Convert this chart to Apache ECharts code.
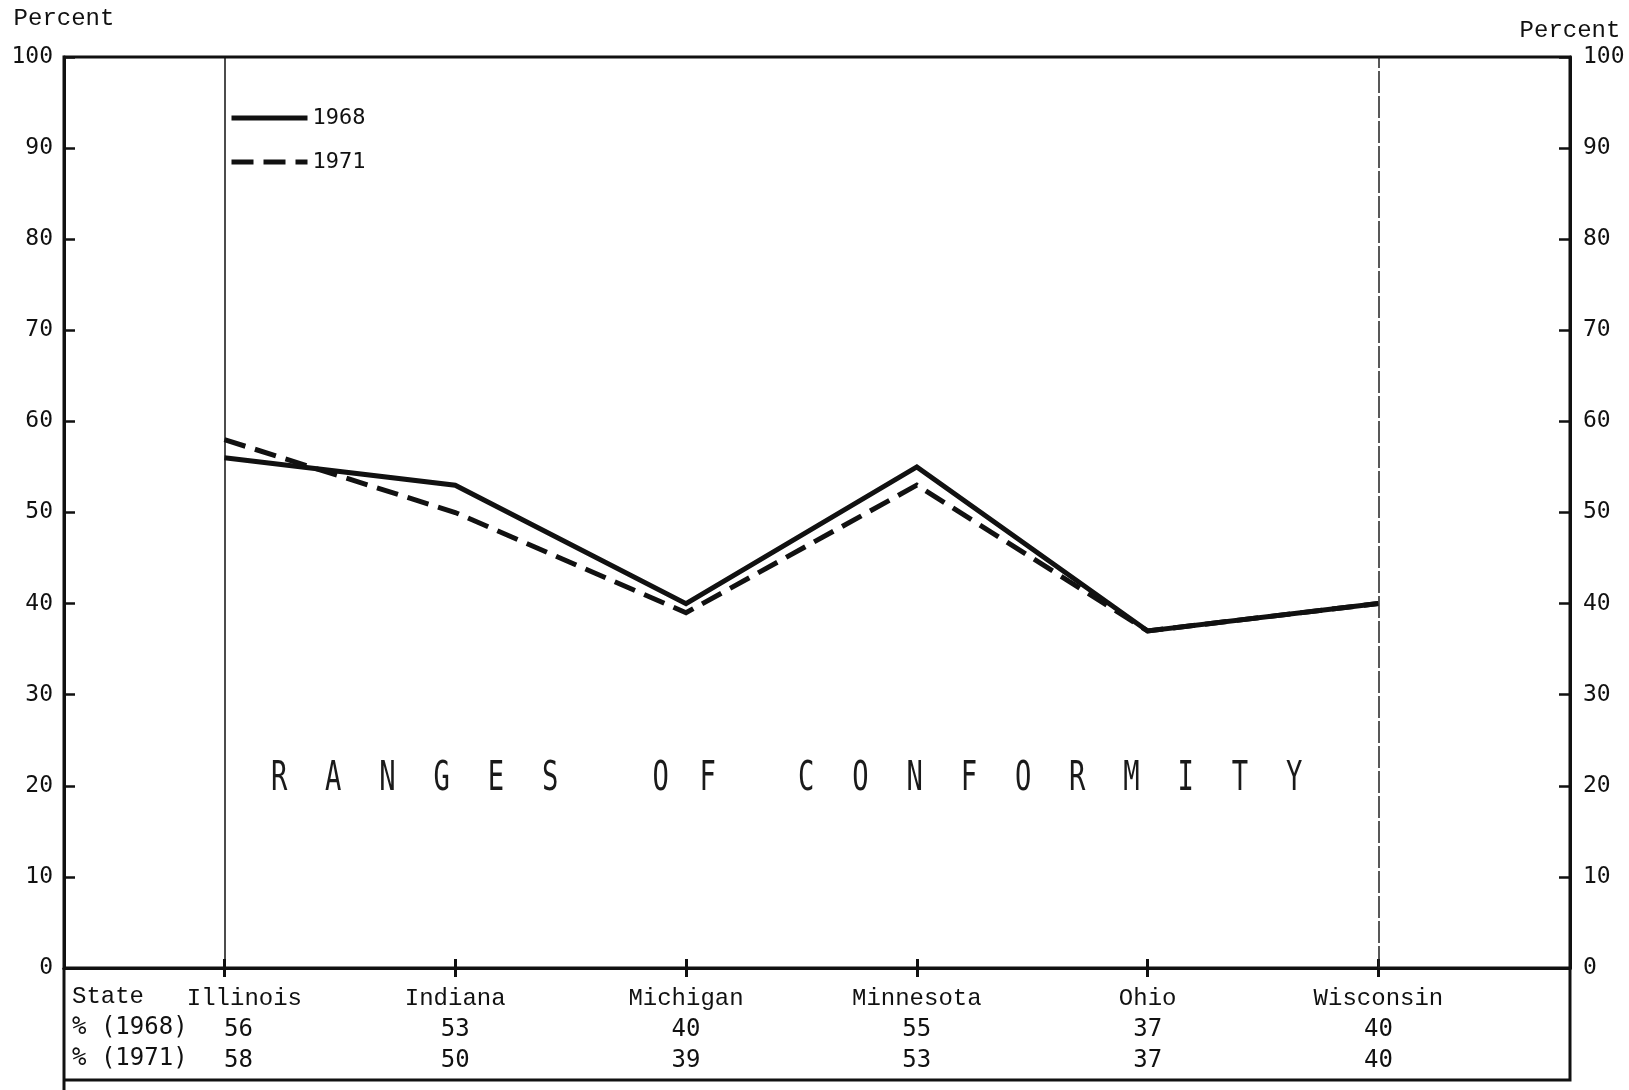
<!DOCTYPE html>
<html>
<head>
<meta charset="utf-8">
<script src="https://cdn.jsdelivr.net/npm/echarts@6/dist/echarts.min.js"></script>
<style>
html,body{margin:0;padding:0;background:#fff;}
#c{width:1629px;height:1090px;}
</style>
</head>
<body>
<div id="c"></div>
<script>
// ---- data ----
const states = ['Illinois', 'Indiana', 'Michigan', 'Minnesota', 'Ohio', 'Wisconsin'];
const pct1968 = [56, 53, 40, 55, 37, 40];
const pct1971 = [58, 50, 39, 53, 37, 40];
const seriesNames = ['1968', '1971'];
const rowHeaders = ['State', '% (1968)', '% (1971)'];
const overlayWords = ['RANGES', 'OF', 'CONFORMITY'];
const axisName = 'Percent';

// ---- styling ----
const INK = '#111';
const MONO_SERIF = '"Liberation Mono", "DejaVu Sans Mono", monospace';
const MONO_SANS = '"DejaVu Sans Mono", "Liberation Mono", monospace';

const idx = states.map((_, i) => i);
const d1968 = pct1968.map((v, i) => [i, v]);
const d1971 = pct1971.map((v, i) => [i, v]);

const G = { left: 64, right: 1570, top: 57, bottom: 968 };
const TSX = 0.68; // horizontal squeeze of the overlay caption

// overlay title built as rich text
function buildTitle() {
  let s = '';
  overlayWords.forEach((w, wi) => {
    if (wi > 0) s += (wi === 1 ? '{g1| }' : '{g2| }');
    for (const ch of w) s += (w.length <= 2 ? '{b|' + ch + '}' : '{a|' + ch + '}');
  });
  return s;
}

const chart = echarts.init(document.getElementById('c'), null, { renderer: 'canvas' });

const xCommon = { type: 'value', min: -0.695, max: 5.83, gridIndex: 0, splitLine: { show: false } };
const capFont = { fontFamily: MONO_SANS, fontSize: 40, fill: '#1a1a1a' };

const option = {
  backgroundColor: '#fff',
  animation: false,
  grid: {
    left: G.left, right: 1629 - G.right, top: G.top, bottom: 1090 - G.bottom,
    show: true, borderColor: INK, borderWidth: 3, backgroundColor: 'transparent'
  },
  legend: {
    orient: 'vertical', left: 224, top: 102,
    itemWidth: 76, itemHeight: 24, itemGap: 22,
    itemStyle: { opacity: 0 },
    lineStyle: { width: 5 },
    textStyle: { fontFamily: MONO_SANS, fontSize: 22, color: INK },
    data: seriesNames
  },
  xAxis: [
    Object.assign({}, xCommon, {
      position: 'bottom',
      axisLine: { show: true, onZero: false, lineStyle: { color: INK, width: 3 } },
      axisTick: { show: true, inside: false, length: 9, lineStyle: { color: INK, width: 3 }, customValues: idx },
      axisLabel: {
        show: true, margin: 15, customValues: idx,
        formatter: function (val) {
          const i = Math.round(val);
          const sfx = i === 0 ? '0' : '';
          return '{s' + sfx + '|' + states[i] + '}\n{n' + sfx + '|' + pct1968[i] + '}\n{n' + sfx + '|' + pct1971[i] + '}';
        },
        rich: {
          s: { fontFamily: MONO_SERIF, fontSize: 24, color: INK, lineHeight: 31 },
          n: { fontFamily: MONO_SANS, fontSize: 24, color: INK, lineHeight: 31 },
          s0: { fontFamily: MONO_SERIF, fontSize: 24, color: INK, lineHeight: 31, padding: [0, 0, 0, 40] },
          n0: { fontFamily: MONO_SANS, fontSize: 24, color: INK, lineHeight: 31, padding: [0, 0, 0, 28] }
        }
      }
    }),
    Object.assign({}, xCommon, {
      position: 'bottom',
      axisLine: { show: false, onZero: false },
      axisTick: { show: true, inside: true, length: 9, lineStyle: { color: INK, width: 3 }, customValues: idx },
      axisLabel: { show: false }
    })
  ],
  yAxis: [
    {
      type: 'value', position: 'left', min: 0, max: 100, interval: 10,
      name: axisName, nameLocation: 'end', nameGap: 26,
      nameTextStyle: { fontFamily: MONO_SERIF, fontSize: 24, color: INK, align: 'center' },
      axisLine: { show: true, onZero: false, lineStyle: { color: INK, width: 3 } },
      axisTick: { show: true, inside: true, length: 11, lineStyle: { color: INK, width: 2.5 } },
      axisLabel: { margin: 11, fontFamily: MONO_SANS, fontSize: 23, color: INK },
      splitLine: { show: false }
    },
    {
      type: 'value', position: 'right', min: 0, max: 100, interval: 10,
      name: axisName, nameLocation: 'end', nameGap: 14,
      nameTextStyle: { fontFamily: MONO_SERIF, fontSize: 24, color: INK, align: 'center' },
      axisLine: { show: true, onZero: false, lineStyle: { color: INK, width: 3 } },
      axisTick: { show: true, inside: true, length: 11, lineStyle: { color: INK, width: 2.5 } },
      axisLabel: { margin: 13, fontFamily: MONO_SANS, fontSize: 23, color: INK },
      splitLine: { show: false }
    }
  ],
  series: [
    {
      name: seriesNames[0], type: 'line', xAxisIndex: 0, yAxisIndex: 0,
      data: d1968, symbol: 'none', z: 3,
      lineStyle: { color: INK, width: 5, join: 'miter' },
      itemStyle: { color: INK },
      markLine: {
        silent: true, symbol: 'none', label: { show: false },
        data: [
          { xAxis: 0, lineStyle: { color: INK, width: 1.5, type: 'solid' } },
          { xAxis: 5, lineStyle: { color: '#222', width: 1.5, type: [22, 3] } }
        ]
      }
    },
    {
      name: seriesNames[1], type: 'line', xAxisIndex: 0, yAxisIndex: 0,
      data: d1971, symbol: 'none', z: 2,
      lineStyle: { color: INK, width: 5, type: [22, 10], join: 'miter' },
      itemStyle: { color: INK }
    }
  ],
  graphic: [
    // table box extension below the plot
    { type: 'polyline', shape: { points: [[G.left, G.bottom], [G.left, 1090]] }, style: { stroke: INK, lineWidth: 3, fill: null } },
    { type: 'polyline', shape: { points: [[G.right, G.bottom], [G.right, 1080], [G.left, 1080]] }, style: { stroke: INK, lineWidth: 3, fill: null } },
    // row headers
    ...rowHeaders.map((t, r) => ({
      type: 'text', left: 72, top: 985 + r * 31,
      style: { text: t, fontFamily: r === 0 ? MONO_SERIF : MONO_SANS, fontSize: 24, fill: INK }
    })),
    // overlay caption
    {
      type: 'text', x: 252, y: 780, scaleX: TSX, scaleY: 1,
      style: {
        text: buildTitle(), verticalAlign: 'middle', align: 'left',
        rich: {
          a: Object.assign({ width: 54.2 / TSX, align: 'center' }, capFont),
          b: Object.assign({ width: 47 / TSX, align: 'center' }, capFont),
          g1: Object.assign({ width: 60 / TSX }, capFont),
          g2: Object.assign({ width: 48 / TSX }, capFont)
        }
      }
    }
  ]
};
chart.setOption(option);
</script>
</body>
</html>
